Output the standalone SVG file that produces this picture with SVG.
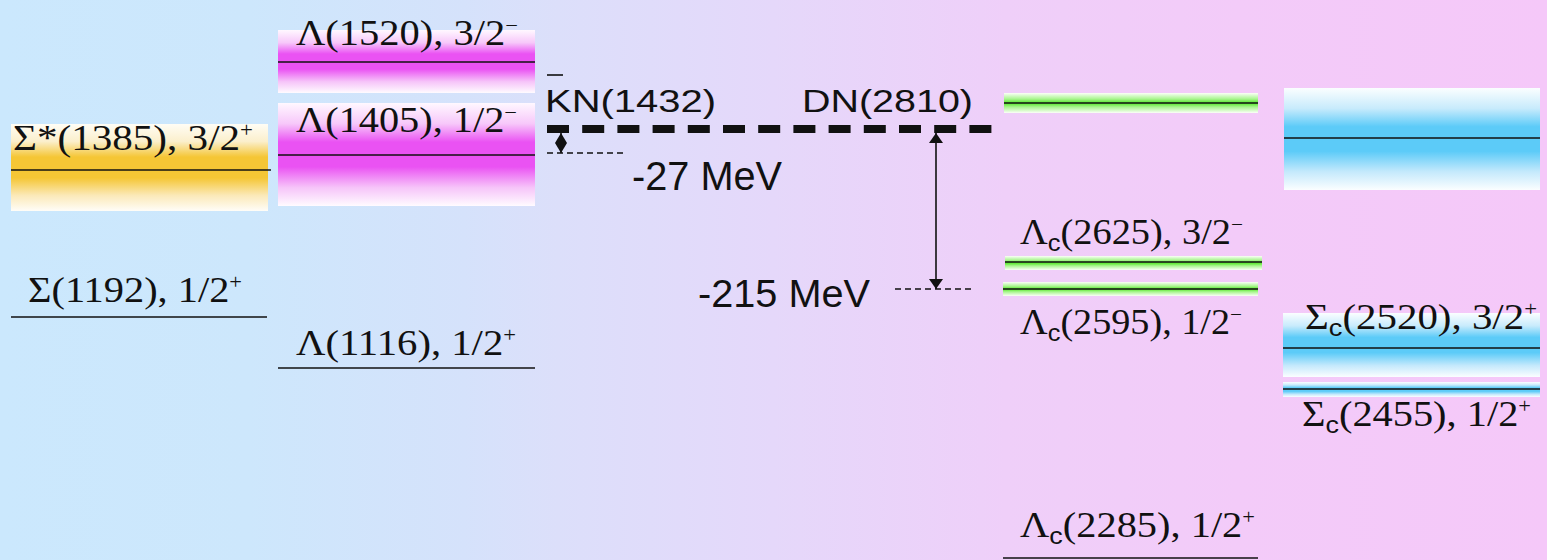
<svg xmlns="http://www.w3.org/2000/svg" width="1547" height="560" viewBox="0 0 1547 560">
<defs>
<style>
.lbl{font-family:"Liberation Serif","Times New Roman",serif;font-size:36px;fill:#111}
.sans{font-family:"Liberation Sans",Arial,sans-serif;fill:#111}
.lvl{stroke:#111;stroke-width:1.6;fill:none}
.thin{stroke:#111;stroke-width:1.4;stroke-dasharray:6 4;fill:none}
.sub{font-family:"Liberation Sans",Arial,sans-serif;font-size:24px}
.sup{font-size:20px}
</style>
<linearGradient id="bg" x1="0" y1="0" x2="1" y2="0">
<stop offset="0" stop-color="#cbe8fd"/>
<stop offset="0.16" stop-color="#cde7fc"/>
<stop offset="0.3" stop-color="#d5e2fb"/>
<stop offset="0.36" stop-color="#dcdffa"/>
<stop offset="0.5" stop-color="#e5d8fa"/>
<stop offset="0.65" stop-color="#efcff9"/>
<stop offset="0.8" stop-color="#f3cbf9"/>
<stop offset="1" stop-color="#f5c8f9"/>
</linearGradient>
<linearGradient id="gOr" x1="0" y1="0" x2="0" y2="1">
<stop offset="0" stop-color="#fffdf5"/>
<stop offset="0.2" stop-color="#fbefcc"/>
<stop offset="0.38" stop-color="#f5c635"/>
<stop offset="0.62" stop-color="#f5c635"/>
<stop offset="0.82" stop-color="#fbe9b8"/>
<stop offset="1" stop-color="#fffdf8"/>
</linearGradient>
<linearGradient id="gMa" x1="0" y1="0" x2="0" y2="1">
<stop offset="0" stop-color="#fff8ff"/>
<stop offset="0.2" stop-color="#f7c8fa"/>
<stop offset="0.38" stop-color="#ea52f3"/>
<stop offset="0.62" stop-color="#ea52f3"/>
<stop offset="0.82" stop-color="#f6c4f9"/>
<stop offset="1" stop-color="#fffbff"/>
</linearGradient>
<linearGradient id="gBl" x1="0" y1="0" x2="0" y2="1">
<stop offset="0" stop-color="#fbfeff"/>
<stop offset="0.2" stop-color="#c8ebfc"/>
<stop offset="0.38" stop-color="#5ccbf8"/>
<stop offset="0.62" stop-color="#5ccbf8"/>
<stop offset="0.82" stop-color="#c4e9fc"/>
<stop offset="1" stop-color="#fbfeff"/>
</linearGradient>
<linearGradient id="gGr" x1="0" y1="0" x2="0" y2="1">
<stop offset="0" stop-color="#fbfff8"/>
<stop offset="0.3" stop-color="#a8f58e"/>
<stop offset="0.45" stop-color="#66ea3e"/>
<stop offset="0.55" stop-color="#66ea3e"/>
<stop offset="0.7" stop-color="#a8f58e"/>
<stop offset="1" stop-color="#fbfff8"/>
</linearGradient>
<marker id="ah" viewBox="0 0 10 14" refX="10" refY="7" markerWidth="10" markerHeight="14" markerUnits="userSpaceOnUse" orient="auto-start-reverse">
<path d="M0,0 L10,7 L0,14 Z" fill="#111"/>
</marker>
<marker id="ahs" viewBox="0 0 10 12" refX="10" refY="6" markerWidth="10" markerHeight="12" markerUnits="userSpaceOnUse" orient="auto-start-reverse">
<path d="M0,0 L10,6 L0,12 Z" fill="#111"/>
</marker>
</defs>
<rect x="0" y="0" width="1547" height="560" fill="url(#bg)"/>

<g id="sigma-star-1385">
<rect x="11" y="124" width="257" height="87" fill="url(#gOr)"/>
<line class="lvl" x1="11" y1="170" x2="271" y2="170"/>
<text class="lbl" x="13" y="150" textLength="240" lengthAdjust="spacingAndGlyphs">Σ*(1385), 3/2<tspan class="sup" dy="-13">+</tspan></text>
</g>

<g id="sigma-1192">
<line class="lvl" x1="11" y1="317" x2="267" y2="317"/>
<text class="lbl" x="28" y="302" textLength="214" lengthAdjust="spacingAndGlyphs">Σ(1192), 1/2<tspan class="sup" dy="-13">+</tspan></text>
</g>

<g id="lambda-1520">
<rect x="278" y="30" width="257" height="63" fill="url(#gMa)"/>
<line class="lvl" x1="278" y1="62" x2="535" y2="62"/>
<text class="lbl" x="296" y="45" textLength="222" lengthAdjust="spacingAndGlyphs">Λ(1520), 3/2<tspan class="sup" dy="-13">−</tspan></text>
</g>

<g id="lambda-1405">
<rect x="278" y="103" width="257" height="103" fill="url(#gMa)"/>
<line class="lvl" x1="278" y1="155" x2="535" y2="155"/>
<text class="lbl" x="296" y="132" textLength="221" lengthAdjust="spacingAndGlyphs">Λ(1405), 1/2<tspan class="sup" dy="-13">−</tspan></text>
</g>

<g id="lambda-1116">
<line class="lvl" x1="278" y1="368" x2="535" y2="368"/>
<text class="lbl" x="296" y="355" textLength="220" lengthAdjust="spacingAndGlyphs">Λ(1116), 1/2<tspan class="sup" dy="-13">+</tspan></text>
</g>

<g id="kbarn-1432">
<text class="sans" x="545" y="112" font-size="31" textLength="171" lengthAdjust="spacingAndGlyphs">KN(1432)</text>
<line x1="547" y1="75" x2="563" y2="75" stroke="#111" stroke-width="1.6"/>
</g>

<g id="dn-2810">
<text class="sans" x="802" y="112" font-size="31" textLength="171" lengthAdjust="spacingAndGlyphs">DN(2810)</text>
</g>

<g id="threshold">
<line x1="547" y1="129" x2="992" y2="129" stroke="#111" stroke-width="8" stroke-dasharray="22 13.2"/>
</g>

<g id="dn-top-green">
<rect x="1004" y="93" width="254" height="20" fill="url(#gGr)"/>
<line class="lvl" x1="1004" y1="103" x2="1258" y2="103"/>
</g>

<g id="lambdac-2625">
<rect x="1005" y="256" width="257" height="14" fill="url(#gGr)"/>
<line class="lvl" x1="1005" y1="262" x2="1262" y2="262"/>
<text class="lbl" x="1020" y="244" textLength="223" lengthAdjust="spacingAndGlyphs">Λ<tspan class="sub" dy="7">c</tspan><tspan dy="-7">(2625), 3/2</tspan><tspan class="sup" dy="-13">−</tspan></text>
</g>

<g id="lambdac-2595">
<rect x="1003" y="282" width="255" height="14" fill="url(#gGr)"/>
<line class="lvl" x1="1003" y1="289" x2="1258" y2="289"/>
<text class="lbl" x="1020" y="334" textLength="222" lengthAdjust="spacingAndGlyphs">Λ<tspan class="sub" dy="7">c</tspan><tspan dy="-7">(2595), 1/2</tspan><tspan class="sup" dy="-13">−</tspan></text>
</g>

<g id="lambdac-2285">
<line class="lvl" x1="1003" y1="558" x2="1258" y2="558"/>
<text class="lbl" x="1020" y="537" textLength="235" lengthAdjust="spacingAndGlyphs">Λ<tspan class="sub" dy="7">c</tspan><tspan dy="-7">(2285), 1/2</tspan><tspan class="sup" dy="-13">+</tspan></text>
</g>

<g id="ds-top-blue">
<rect x="1284" y="88" width="256" height="102" fill="url(#gBl)"/>
<line class="lvl" x1="1284" y1="138" x2="1540" y2="138"/>
</g>

<g id="sigmac-2520">
<rect x="1283" y="313" width="257" height="64" fill="url(#gBl)"/>
<line class="lvl" x1="1283" y1="348" x2="1540" y2="348"/>
<text class="lbl" x="1305" y="329" textLength="232" lengthAdjust="spacingAndGlyphs">Σ<tspan class="sub" dy="7">c</tspan><tspan dy="-7">(2520), 3/2</tspan><tspan class="sup" dy="-13">+</tspan></text>
</g>

<g id="sigmac-2455">
<rect x="1283" y="382" width="257" height="15" fill="url(#gBl)"/>
<line class="lvl" x1="1283" y1="389" x2="1540" y2="389"/>
<text class="lbl" x="1302" y="426" textLength="229" lengthAdjust="spacingAndGlyphs">Σ<tspan class="sub" dy="7">c</tspan><tspan dy="-7">(2455), 1/2</tspan><tspan class="sup" dy="-13">+</tspan></text>
</g>

<g id="binding-labels">
<text class="sans" x="632" y="190" font-size="40" textLength="150" lengthAdjust="spacingAndGlyphs">-27 MeV</text>
<text class="sans" x="698" y="307" font-size="38" textLength="172" lengthAdjust="spacingAndGlyphs">-215 MeV</text>
</g>

<g id="connectors">
<line class="thin" x1="547" y1="153" x2="625" y2="153"/>
<line x1="561" y1="133" x2="561" y2="153" stroke="#111" stroke-width="1.5" marker-start="url(#ahs)" marker-end="url(#ahs)"/>
<line class="thin" x1="895" y1="289" x2="973" y2="289"/>
<line x1="936" y1="133" x2="936" y2="289" stroke="#111" stroke-width="1.6" marker-start="url(#ah)" marker-end="url(#ah)"/>
</g>
</svg>
